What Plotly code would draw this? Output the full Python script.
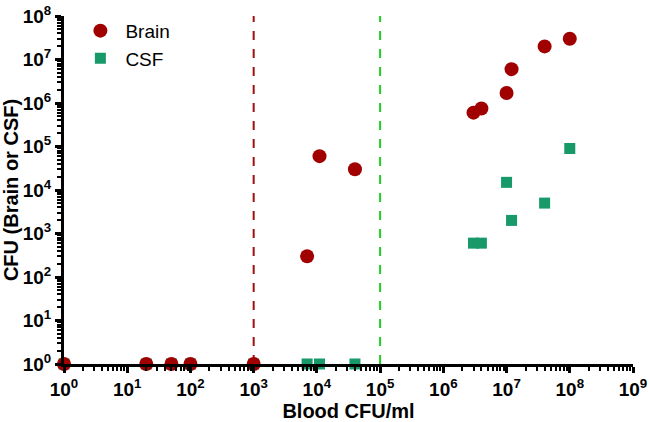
import plotly.graph_objects as go

# Brain CFU vs blood CFU
brain_blood = [1, 20, 50, 100, 1000, 7000, 11000, 40000, 3e6, 4e6, 1e7, 1.2e7, 4e7, 1e8]
brain_cfu = [1, 1, 1, 1, 1, 300, 60000, 30000, 6e5, 7.5e5, 1.7e6, 6e6, 2e7, 3e7]

# CSF CFU vs blood CFU
csf_blood = [1, 20, 50, 100, 1000, 7000, 11000, 40000, 3e6, 4e6, 1e7, 1.2e7, 4e7, 1e8]
csf_cfu = [1, 1, 1, 1, 1, 1, 1, 1, 600, 600, 15000, 2000, 5000, 90000]

# threshold lines (blood CFU/ml)
thresholds = [1000, 1e5]
threshold_colors = ["#A01010", "#22CC22"]

x_exps = list(range(0, 10))
y_exps = list(range(0, 9))

fig = go.Figure()

fig.add_trace(go.Scatter(x=csf_blood, y=csf_cfu, mode="markers", name="CSF",
                         marker=dict(symbol="square", size=11, color="#17996A"),
                         cliponaxis=False))
fig.add_trace(go.Scatter(x=brain_blood, y=brain_cfu, mode="markers", name="Brain",
                         marker=dict(symbol="circle", size=14, color="#A00000"),
                         cliponaxis=False))

for t, c in zip(thresholds, threshold_colors):
    fig.add_shape(type="line", x0=t, x1=t, y0=0, y1=1, xref="x", yref="paper",
                  line=dict(color=c, width=2, dash="dash"), layer="below")

fig.update_layout(
    width=650, height=422,
    margin=dict(l=64, r=17, t=14, b=58),
    plot_bgcolor="white", paper_bgcolor="white",
    font=dict(family="Liberation Sans, Arial", size=16, color="black"),
    showlegend=True,
    legend=dict(x=0.02, y=1.012, xanchor="left", yanchor="top", traceorder="reversed",
                font=dict(size=19), bgcolor="rgba(0,0,0,0)", itemwidth=40),
)

fig.update_xaxes(
    type="log", range=[0, 9], automargin=False,
    tickvals=[10 ** e for e in x_exps],
    ticktext=[f"10<sup>{e}</sup>" for e in x_exps],
    tickfont=dict(size=19, weight="bold"),
    showline=True, linecolor="black", linewidth=3,
    ticks="outside", ticklen=6, tickwidth=3, tickcolor="black",
    minor=dict(ticks="outside", ticklen=4, tickwidth=2, tickcolor="black", dtick="D1"),
    showgrid=False, zeroline=False,
    title=dict(text="Blood CFU/ml", font=dict(size=20, weight="bold"), standoff=6),
)
fig.update_yaxes(
    type="log", range=[0, 8], automargin=False,
    tickvals=[10 ** e for e in y_exps],
    ticktext=[f"10<sup>{e}</sup>" for e in y_exps],
    tickfont=dict(size=19, weight="bold"),
    showline=True, linecolor="black", linewidth=3,
    ticks="outside", ticklen=6, tickwidth=3, tickcolor="black",
    minor=dict(ticks="outside", ticklen=4, tickwidth=2, tickcolor="black", dtick="D1"),
    showgrid=False, zeroline=False,
    title=dict(text="CFU (Brain or CSF)", font=dict(size=20, weight="bold"), standoff=2),
)

# drop the browser's default page margin so the chart fills the window
fig.write_html("out.html", config={"displayModeBar": False},
               post_script="document.body.style.margin='0';")
